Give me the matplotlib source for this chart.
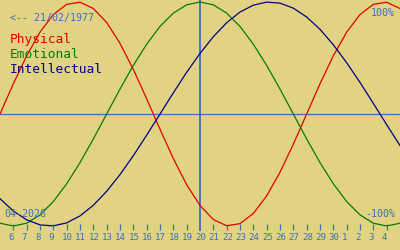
import matplotlib
matplotlib.use('Agg')
import matplotlib.pyplot as plt

# day offsets relative to the marked day (20 April 2026), one value per day
offsets = list(range(-15, 16))

physical = [0.000, 0.270, 0.520, 0.731, 0.888, 0.979, 0.998, 0.942, 0.817, 0.631,
            0.398, 0.136, -0.136, -0.398, -0.631, -0.817, -0.942, -0.998, -0.979, -0.888,
            -0.731, -0.520, -0.270, 0.000, 0.270, 0.520, 0.731, 0.888, 0.979, 0.998, 0.942]
emotional = [-0.975, -1.000, -0.975, -0.901, -0.782, -0.623, -0.434, -0.223, 0.000, 0.223,
             0.434, 0.623, 0.782, 0.901, 0.975, 1.000, 0.975, 0.901, 0.782, 0.623,
             0.434, 0.223, 0.000, -0.223, -0.434, -0.623, -0.782, -0.901, -0.975, -1.000, -0.975]
intellectual = [-0.756, -0.866, -0.945, -0.990, -0.999, -0.972, -0.910, -0.815, -0.690, -0.541,
                -0.372, -0.189, 0.000, 0.189, 0.372, 0.541, 0.690, 0.815, 0.910, 0.972,
                0.999, 0.990, 0.945, 0.866, 0.756, 0.618, 0.458, 0.282, 0.095, -0.095, -0.282]

tick_offsets = list(range(-14, 15))
tick_labels = ['6', '7', '8', '9', '10', '11', '12', '13', '14', '15', '16', '17', '18', '19',
               '20', '21', '22', '23', '24', '25', '26', '27', '28', '29', '30',
               '1', '2', '3', '4']

series_names = ['Physical', 'Emotional', 'Intellectual']
birth_label = '<-- 21/02/1977'
month_label = '04-2026'

bg = '#e1d382'
txt_blue = '#3a6fc0'
colors = ['#e00000', '#0a780a', '#000088']
mono = 'DejaVu Sans Mono'

fig = plt.figure(figsize=(4, 2.5), dpi=100, facecolor=bg)
ax = fig.add_axes([0, 0, 1, 1])
ax.set_facecolor(bg)
ax.set_xlim(-15, 15)
ax.set_ylim(-1.2143, 1.0179)
ax.axis('off')

ax.axhline(0, color=txt_blue, lw=0.9)
ax.vlines(0, 0.076, 1, color=txt_blue, lw=1.3, transform=ax.get_xaxis_transform())

for vals, c in zip([physical, emotional, intellectual], colors):
    ax.plot(offsets, vals, color=c, lw=0.9)

xt = ax.get_xaxis_transform()
ax.vlines([t for t in tick_offsets if t != 0], 0.08, 0.104, color=txt_blue, lw=0.9, transform=xt)
for t, lab in zip(tick_offsets, tick_labels):
    ax.text(t - 0.36, 0.05, lab, transform=xt, ha='left', va='center',
            fontsize=6.6, family=mono, color=txt_blue)


def put(x, ytop, s, size, color, ha='left'):
    fig.text(x / 400, 1 - ytop / 250, s, fontsize=size, family=mono, color=color,
             ha=ha, va='baseline')


put(10, 20.7, birth_label, 7.2, txt_blue)
for i, (name, c) in enumerate(zip(series_names, colors)):
    put(10, 42.7 + i * 15, name, 9.3, c)
put(395, 16, '100%', 7.2, txt_blue, ha='right')
put(395, 217, '-100%', 7.2, txt_blue, ha='right')
put(4, 217, month_label, 7.2, txt_blue)

fig.savefig('out.png', dpi=100, facecolor=bg)
